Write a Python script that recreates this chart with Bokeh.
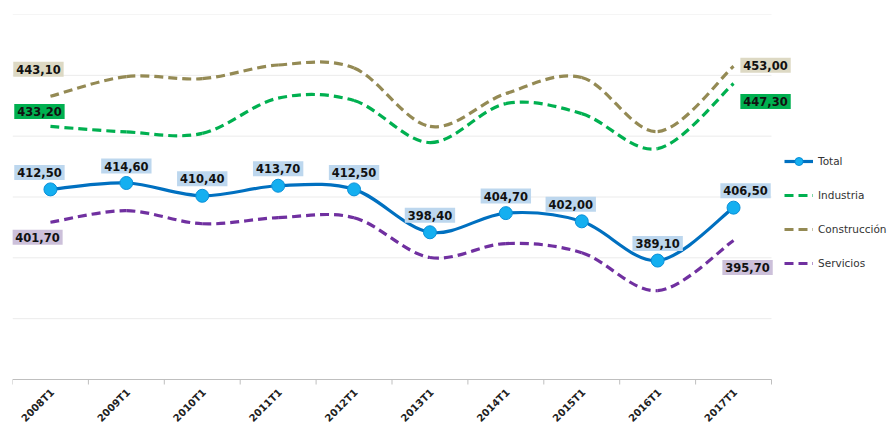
import numpy as np
from bokeh.plotting import figure
from bokeh.models import (ColumnDataSource, Label, Legend, LegendItem, Range1d)
from bokeh.embed import file_html
from bokeh.resources import INLINE

periods = ["2008T1", "2009T1", "2010T1", "2011T1", "2012T1",
           "2013T1", "2014T1", "2015T1", "2016T1", "2017T1"]
total = [412.5, 414.6, 410.4, 413.7, 412.5, 398.4, 404.7, 402.0, 389.1, 406.5]
industria = [433.2, 431.4, 430.9, 442.5, 441.7, 427.9, 440.7, 437.4, 425.9, 447.3]
construccion = [443.1, 449.6, 448.9, 453.4, 452.4, 433.2, 444.0, 449.3, 431.5, 453.0]
servicios = [401.7, 405.5, 401.2, 403.2, 403.2, 390.1, 394.7, 391.7, 379.2, 395.7]
grid_values = [370, 390, 410, 430, 450, 470]
axis_value = 350

FONT = "DejaVu Sans"
W, H = 891, 424
LEFT, TOP = 12, 14
AXIS_Y_PX = 379          # pixel row of the category axis
CAT_PX = 75.9            # pixels per category
PX_PER_UNIT = (AXIS_Y_PX - TOP) / (470 - axis_value)

# per-label horizontal shifts of the Total value boxes (style only)
total_label_dx = [-11, 0, 0, 0, 0, 0, 0, -11, 0, 12]

def fmt(v):
    return f"{v:.2f}".replace(".", ",")

def bezier_source(ys):
    # Smoothed-line segments (Catmull-Rom style control points) built from the data
    xs = np.arange(len(ys), dtype=float)
    ys = np.asarray(ys, dtype=float)
    n = len(ys)
    px = np.concatenate([[xs[0]], xs, [xs[-1]]])
    py = np.concatenate([[ys[0]], ys, [ys[-1]]])
    d = dict(x0=[], y0=[], x1=[], y1=[], cx0=[], cy0=[], cx1=[], cy1=[])
    for i in range(n - 1):
        j = i + 1
        d["x0"].append(px[j]); d["y0"].append(py[j])
        d["x1"].append(px[j + 1]); d["y1"].append(py[j + 1])
        d["cx0"].append(px[j] + (px[j + 1] - px[j - 1]) / 6)
        d["cy0"].append(py[j] + (py[j + 1] - py[j - 1]) / 6)
        d["cx1"].append(px[j + 1] - (px[j + 2] - px[j]) / 6)
        d["cy1"].append(py[j + 1] - (py[j + 2] - py[j]) / 6)
    return ColumnDataSource(d)

n = len(periods)
xpos = list(range(n))
x_end = -0.5 + (W - LEFT) / CAT_PX
y_start = axis_value - (H - AXIS_Y_PX) / PX_PER_UNIT

p = figure(width=W, height=H, output_backend="svg", toolbar_location=None,
           x_range=Range1d(-0.5, x_end), y_range=Range1d(y_start, 470),
           x_axis_location=None, y_axis_location=None,
           min_border_left=LEFT, min_border_right=0, min_border_top=TOP,
           min_border_bottom=0)
p.outline_line_color = None
p.background_fill_color = "white"
p.border_fill_color = "white"
p.xgrid.visible = False
p.ygrid.visible = False

# horizontal gridlines
p.segment(x0=[-0.5] * len(grid_values), x1=[n - 0.5] * len(grid_values),
          y0=grid_values, y1=grid_values, line_color="#ebebeb", line_width=1)

# category axis: line, ticks at category boundaries, rotated labels
bounds = [i - 0.5 for i in range(n + 1)]
p.segment(x0=[-0.5], x1=[n - 0.5], y0=[axis_value], y1=[axis_value],
          line_color="#bfbfbf", line_width=1)
p.segment(x0=bounds, x1=bounds, y0=[axis_value] * len(bounds),
          y1=[axis_value - 5 / PX_PER_UNIT] * len(bounds),
          line_color="#bfbfbf", line_width=1)
for xi, lab in zip(xpos, periods):
    p.add_layout(Label(x=xi, y=axis_value, text=lab, angle=np.pi / 4,
                       text_align="right", text_baseline="middle",
                       x_offset=2, y_offset=-11, text_font=FONT,
                       text_font_style="bold", text_font_size="10px",
                       text_color="#222222"))

series = [
    ("Industria", industria, "#00b050"),
    ("Construcción", construccion, "#948a54"),
    ("Servicios", servicios, "#7030a0"),
]
dash = "9 5"
series_r = {}
for name, ys, col in series:
    series_r[name] = p.bezier(x0="x0", y0="y0", x1="x1", y1="y1", cx0="cx0",
                              cy0="cy0", cx1="cx1", cy1="cy1",
                              source=bezier_source(ys), line_color=col,
                              line_width=3.2, line_dash=dash)

# Total
r_total = p.bezier(x0="x0", y0="y0", x1="x1", y1="y1", cx0="cx0", cy0="cy0",
                   cx1="cx1", cy1="cy1", source=bezier_source(total),
                   line_color="#0070c0", line_width=3.2)
tsrc = ColumnDataSource(dict(x=xpos, y=total))
# small markers (hidden under the big ones) used for the legend symbol
r_small = p.scatter("x", "y", source=tsrc, size=7, fill_color="#14aff0",
                    line_color="#0a8fd8", line_width=1)
p.scatter("x", "y", source=tsrc, size=13, fill_color="#14aff0",
          line_color="#0a8fd8", line_width=1)

lab_style = dict(text_font=FONT, text_font_style="bold", text_font_size="11.5px",
                 text_color="#111111", text_align="center", text_baseline="middle",
                 padding=3)

for xi, v, dx in zip(xpos, total, total_label_dx):
    p.add_layout(Label(x=xi, y=v, text=fmt(v), x_offset=dx, y_offset=17,
                       background_fill_color="#bdd7ee", **lab_style))

box_cols = {"Industria": "#00b050", "Construcción": "#ddd9c4", "Servicios": "#ccc0da"}
start_off = {"Industria": (-11, 15), "Construcción": (-12, 27), "Servicios": (-13, -15)}
end_off = {"Industria": (32, -18), "Construcción": (32, 1), "Servicios": (14, -27)}
for name, ys, col in series:
    for idx, offs in ((0, start_off[name]), (len(ys) - 1, end_off[name])):
        p.add_layout(Label(x=xpos[idx], y=ys[idx], text=fmt(ys[idx]),
                           x_offset=offs[0], y_offset=offs[1],
                           background_fill_color=box_cols[name], **lab_style))

# legend
items = [LegendItem(label="Total", renderers=[r_total, r_small])]
for name, ys, col in series:
    items.append(LegendItem(label=name, renderers=[series_r[name]]))

legend_top = 151
legend_h = 4 * 20 + 3 * 14
legend = Legend(items=items, location=(784 - LEFT, H - (legend_top + legend_h)),
                glyph_width=29, glyph_height=20,
                label_height=20, spacing=14, padding=0, margin=0,
                label_standoff=5, border_line_color=None,
                background_fill_alpha=0, label_text_font=FONT,
                label_text_font_size="10.5px", label_text_color="#333333")
p.add_layout(legend, "center")

open("out.html", "w").write(file_html(p, INLINE))
